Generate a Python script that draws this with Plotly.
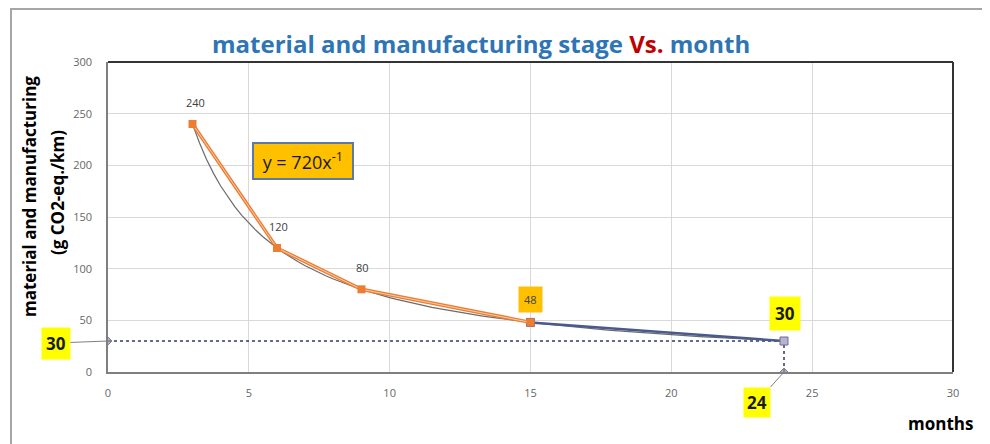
import plotly.graph_objects as go

# ---- data ----
months = [3, 6, 9, 15]
values = [240, 120, 80, 48]
proj_months = [15, 24]
proj_values = [48, 30]
target_month = 24
target_value = 30
trend_coef = 720
trend_exp = -1
trend_x = [3 + i * 0.25 for i in range(85)]  # 3 .. 24
trend_y = [trend_coef * (x ** trend_exp) for x in trend_x]
x_ticks = [0, 5, 10, 15, 20, 25, 30]
y_ticks = [0, 50, 100, 150, 200, 250, 300]

ORANGE = "#ED7D31"
NAVY = "#4A5A8C"

# page offset (browser body margin) compensation
OFF = 8
PL, PR, PT, PB = 108, 953, 62, 372   # plot area in screen pixels
PW, PH = PR - PL, PB - PT


def px(x):
    return (x - PL) / PW


def py(y):
    return (PB - y) / PH


fig = go.Figure()

# trendline
fig.add_trace(go.Scatter(x=trend_x, y=trend_y, mode="lines",
                         line=dict(color="#6b6b6b", width=1.2), hoverinfo="skip"))
# dotted guides
fig.add_trace(go.Scatter(x=[0, target_month], y=[target_value, target_value], mode="lines+markers",
                         line=dict(color="#2f3b6b", width=1.5, dash="dot"),
                         marker=dict(size=[6, 1], color="#9a9a9a", symbol="diamond")))
fig.add_trace(go.Scatter(x=[target_month, target_month], y=[0, target_value], mode="lines+markers",
                         line=dict(color="#2f3b6b", width=1.5, dash="dot"),
                         marker=dict(size=[6, 1], color="#9a9a9a", symbol="diamond")))
# projection segment
fig.add_trace(go.Scatter(x=proj_months, y=proj_values, mode="lines+markers",
                         line=dict(color=NAVY, width=2.5),
                         marker=dict(symbol="square", size=8, color=[NAVY, "#b6b3cf"],
                                     line=dict(color="#6f6d94", width=1))))
# measured series (orange with light core)
fig.add_trace(go.Scatter(x=months, y=values, mode="lines",
                         line=dict(color=ORANGE, width=3.5)))
fig.add_trace(go.Scatter(x=months, y=values, mode="lines+markers",
                         line=dict(color="#F8CBAD", width=1),
                         marker=dict(symbol="square", size=8, color=ORANGE)))

ann = []
# plain data labels
for i in range(3):
    ann.append(dict(x=months[i], y=values[i], text=str(values[i]), showarrow=False,
                    yshift=22, xshift=3 if i == 0 else 1,
                    font=dict(family="Open Sans", size=11, color="#404040")))
# 48 label
ann.append(dict(x=months[3], y=values[3], text=str(values[3]), showarrow=False, yshift=23,
                bgcolor="#FFC000", borderpad=5,
                font=dict(family="Open Sans", size=11, color="#404040")))
# 30 label at end
ann.append(dict(x=proj_months[1], y=proj_values[1], text="<b>30</b>", showarrow=False, yshift=28, xshift=1,
                bgcolor="#FFFF00", borderpad=5,
                font=dict(family="Open Sans", size=17, color="#1a1a1a")))
# 24 label below axis
ann.append(dict(x=target_month, y=0, text="<b>24</b>", showarrow=True, arrowhead=0,
                arrowcolor="#7f7f7f", arrowwidth=1, ax=-27, ay=30,
                bgcolor="#FFFF00", borderpad=3,
                font=dict(family="Open Sans", size=17, color="#1a1a1a")))
# 30 label left of axis
ann.append(dict(x=0, y=target_value, text="<b>30</b>", showarrow=True, arrowhead=0,
                arrowcolor="#7f7f7f", arrowwidth=1, ax=-52, ay=2,
                bgcolor="#FFFF00", borderpad=4,
                font=dict(family="Open Sans", size=17, color="#1a1a1a")))
# equation box
ann.append(dict(x=6.92, y=204, text="&nbsp;y = 720x<sup>-1</sup>&nbsp;", showarrow=False,
                bgcolor="#FFC000", bordercolor="#5B7BA6", borderwidth=2, borderpad=4,
                font=dict(family="Open Sans", size=18, color="#1a1a1a")))
# y axis title (two lines)
ann.append(dict(xref="paper", yref="paper", x=px(30), y=py(197), xanchor="center", yanchor="middle",
                text="<b>material and manufacturing</b>", textangle=-90,
                showarrow=False, font=dict(family="Open Sans", size=17, color="#000000")))
ann.append(dict(xref="paper", yref="paper", x=px(57), y=py(193), xanchor="center", yanchor="middle",
                text="<b>(g CO2-eq./km)</b>", textangle=-90,
                showarrow=False, font=dict(family="Open Sans", size=17, color="#000000")))
# x axis title
ann.append(dict(xref="paper", yref="paper", x=px(940), y=py(423), xanchor="center", yanchor="middle",
                text="<b>months</b>", showarrow=False,
                font=dict(family="Open Sans", size=17, color="#000000")))
# title
ann.append(dict(xref="paper", yref="paper", x=px(481), y=py(43), xanchor="center", yanchor="middle",
                text="<b><span style='color:#2E75B6'>material and manufacturing stage </span>"
                     "<span style='color:#C00000'>Vs.</span>"
                     "<span style='color:#2E75B6'> month</span></b>",
                showarrow=False, font=dict(family="Open Sans", size=24, color="#2E75B6")))

shapes = [
    # outer chart frame
    dict(type="rect", xref="paper", yref="paper", x0=px(11), x1=px(1100),
         y0=py(520), y1=py(9), line=dict(color="#a6a6a6", width=2), layer="below"),
    # plot top and right border
    dict(type="line", xref="paper", yref="paper", x0=0, x1=1, y0=1, y1=1,
         line=dict(color="#333333", width=2)),
    dict(type="line", xref="paper", yref="paper", x0=1, x1=1, y0=0, y1=1,
         line=dict(color="#333333", width=2)),
]

W, H = 990 - OFF, 444 - OFF
fig.update_layout(
    width=W, height=H,
    margin=dict(l=PL - OFF, r=W - (PR - OFF), t=PT - OFF, b=H - (PB - OFF)),
    paper_bgcolor="white", plot_bgcolor="white",
    showlegend=False,
    annotations=ann, shapes=shapes,
    font=dict(family="Open Sans"),
)
fig.update_xaxes(range=[0, 30], tickvals=x_ticks, showgrid=True, gridcolor="#d9d9d9",
                 zeroline=False, showline=True, linecolor="#7f7f7f", linewidth=1.5,
                 tickfont=dict(size=11, color="#666666"), ticks="", ticklabelstandoff=10)
fig.update_yaxes(range=[0, 300], tickvals=y_ticks, showgrid=True, gridcolor="#d9d9d9",
                 zeroline=False, showline=True, linecolor="#7f7f7f", linewidth=1.5,
                 tickfont=dict(size=11, color="#666666"), ticks="", ticklabelstandoff=12)

fig.write_html("out.html")
